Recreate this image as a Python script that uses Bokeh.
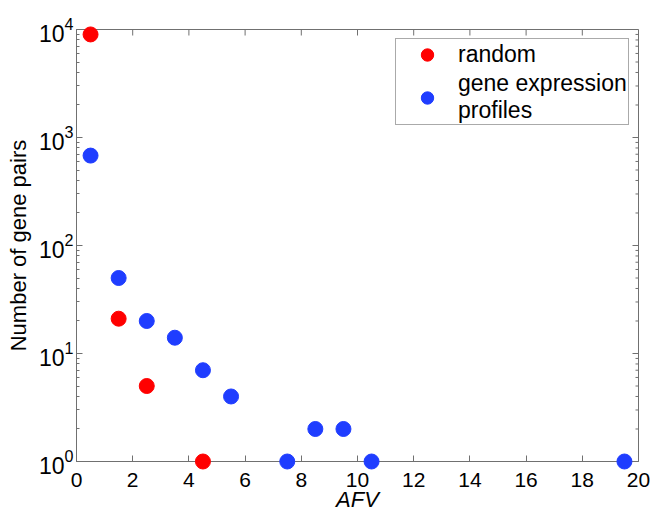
import math
from bokeh.plotting import figure
from bokeh.models import (Range1d, FixedTicker, Legend, LegendItem,
                          LogTickFormatter)
from bokeh.embed import file_html
from bokeh.resources import INLINE

# ---- data ----
afv_random = [0.5, 1.5, 2.5, 4.5]
pairs_random = [9000, 21, 5, 1]
afv_gene = [0.5, 1.5, 2.5, 3.5, 4.5, 5.5, 7.5, 8.5, 9.5, 10.5, 19.5]
pairs_gene = [680, 50, 20, 14, 7, 4, 1, 2, 2, 1, 1]
x_ticks = [0, 2, 4, 6, 8, 10, 12, 14, 16, 18, 20]
y_ticks = [1, 10, 100, 1000, 10000]
y_minor = [m * t for t in y_ticks[:-1] for m in range(2, 10)]
legend_labels = ["random", "gene expression\nprofiles"]

FONT = "Liberation Sans"
AX = "#707070"

p = figure(width=652, height=514,
           x_range=Range1d(0, 20), y_range=Range1d(1, 10000),
           y_axis_type="log",
           output_backend="svg", toolbar_location=None,
           min_border_left=76, min_border_right=14,
           min_border_top=29, min_border_bottom=53)
p.grid.visible = False
p.outline_line_color = AX
p.outline_line_width = 1
p.background_fill_color = "white"


def style(ax):
    ax.axis_line_color = AX
    ax.major_tick_line_color = AX
    ax.minor_tick_line_color = AX
    ax.major_tick_in = 6
    ax.major_tick_out = 0
    ax.minor_tick_in = 3
    ax.minor_tick_out = 0
    ax.major_label_text_font = FONT
    ax.major_label_text_color = "black"
    ax.axis_label_text_font = FONT
    ax.axis_label_text_color = "black"


xb = p.xaxis[0]
style(xb)
xb.ticker = FixedTicker(ticks=x_ticks)
xb.major_label_text_font_size = "21px"
xb.major_label_standoff = 11
xb.axis_label = "AFV"
xb.axis_label_text_font_size = "22px"
xb.axis_label_text_font_style = "italic"
xb.axis_label_standoff = -3

yl = p.yaxis[0]
style(yl)
yl.ticker = FixedTicker(ticks=y_ticks, minor_ticks=y_minor)
yl.formatter = LogTickFormatter()
yl.major_label_text_font_size = "23px"
yl.major_label_standoff = 3
yl.axis_label = "Number of gene pairs"
yl.axis_label_text_font_size = "22px"
yl.axis_label_text_font_style = "normal"
yl.axis_label_standoff = 5

# mirrored ticks on the top and right sides of the box
p.ray(x=x_ticks, y=[y_ticks[-1]] * len(x_ticks), length=6,
      length_units="screen", angle=-math.pi / 2, line_color=AX, line_width=1)
p.ray(x=[x_ticks[-1]] * len(y_ticks), y=y_ticks, length=6,
      length_units="screen", angle=math.pi, line_color=AX, line_width=1)
p.ray(x=[x_ticks[-1]] * len(y_minor), y=y_minor, length=3,
      length_units="screen", angle=math.pi, line_color=AX, line_width=1)

r1 = p.scatter(afv_random, pairs_random, size=15, fill_color="#ff0000",
               line_color="#ff0000", level="overlay")
r2 = p.scatter(afv_gene, pairs_gene, size=15, fill_color="#1f3dff",
               line_color="#1f3dff", level="overlay")

legend = Legend(items=[LegendItem(label=legend_labels[0], renderers=[r1]),
                       LegendItem(label=legend_labels[1], renderers=[r2])],
                location="top_right", margin=9, padding=0, spacing=0,
                glyph_width=62, glyph_height=31, label_standoff=-5,
                label_width=170,
                label_text_font=FONT, label_text_font_size="23px",
                label_text_color="black", label_text_line_height=0.9,
                border_line_color="#555555", border_line_width=1,
                background_fill_color="white", background_fill_alpha=1)
p.add_layout(legend)

open("out.html", "w").write(file_html(p, INLINE))
